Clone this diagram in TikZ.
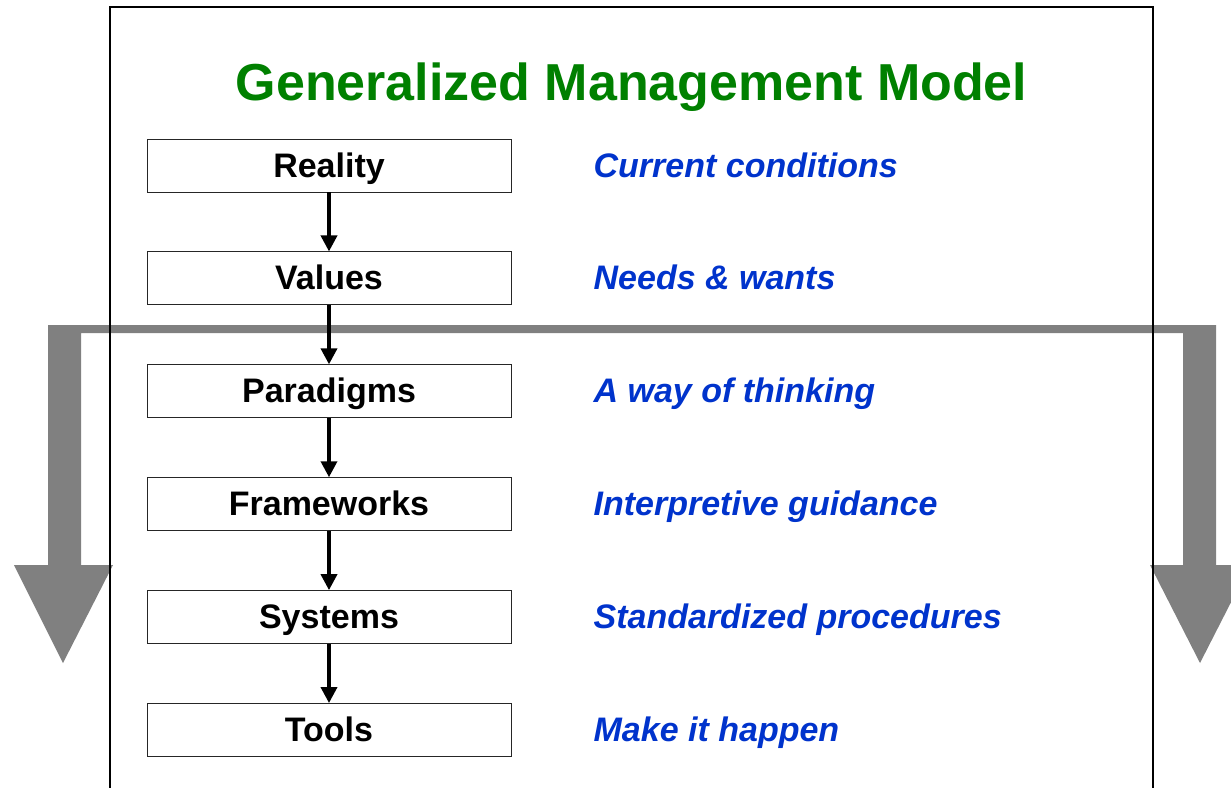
\documentclass[tikz,border=0pt]{standalone}
\usepackage{fontspec}
\setmainfont{Liberation Sans}
\usetikzlibrary{positioning,arrows.meta}
\definecolor{titlegreen}{HTML}{008000}
\definecolor{noteblue}{HTML}{0033CC}
\definecolor{flowgray}{HTML}{808080}

\begin{document}
\begin{tikzpicture}[x=1pt,y=-1pt,node distance=59pt]
	\tikzstyle{layer}=[draw=black!85, line width=0.9pt, minimum width=364pt, minimum height=53pt, inner sep=0pt, text height=30pt, text depth=7pt, font=\fontsize{34}{40}\selectfont\bfseries]
	\tikzstyle{note}=[inner sep=0pt, text height=30pt, text depth=7pt, text=noteblue, font=\fontsize{34}{40}\selectfont\bfseries\itshape]
	\tikzstyle{flow}=[-{Triangle[width=16pt,length=16pt]},line width=3.6pt]

	\useasboundingbox (0,0) rectangle (1231,787);
	\clip (0,0) rectangle (1231,787);

	% grey flow arrow behind everything
	\fill[flowgray] (48,325) -- (1216,325) -- (1216,565) -- (1250,565) -- (1200,663)
		-- (1150,565) -- (1183,565) -- (1183,333) -- (81,333) -- (81,565)
		-- (113,565) -- (63,663) -- (14,565) -- (48,565) -- cycle;

	% frame, open at the bottom
	\draw[line width=2.4pt] (110,795) -- (110,7) -- (1153,7) -- (1153,795);

	\node[anchor=base, text=titlegreen, font=\fontsize{52}{60}\selectfont\bfseries] (title) at (631.5,100) {Generalized Management Model};

	\node[layer] (R) at (329,165.5) {Reality};
	\node[layer,below=of R] (V) {Values};
	\node[layer,below=of V] (P) {Paradigms};
	\node[layer,below=of P] (F) {Frameworks};
	\node[layer,below=of F] (S) {Systems};
	\node[layer,below=of S] (T) {Tools};

	\node[note,right=82pt of R] (Rn) {Current conditions};
	\node[note,right=82pt of V] (Vn) {Needs \& wants};
	\node[note,right=82pt of P] (Pn) {A way of thinking};
	\node[note,right=82pt of F] (Fn) {Interpretive guidance};
	\node[note,right=82pt of S] (Sn) {Standardized procedures};
	\node[note,right=82pt of T] (Tn) {Make it happen};

	\draw[flow] (R) -- (V);
	\draw[flow] (V) -- (P);
	\draw[flow] (P) -- (F);
	\draw[flow] (F) -- (S);
	\draw[flow] (S) -- (T);
\end{tikzpicture}
\end{document}
